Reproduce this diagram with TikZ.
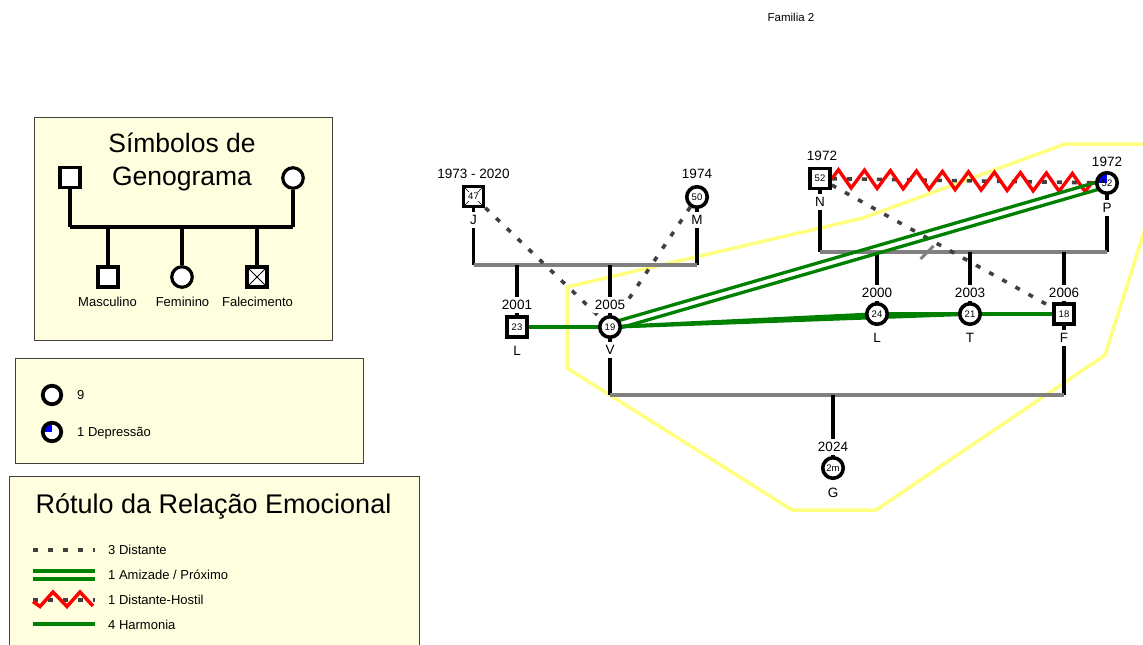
\documentclass[tikz,border=0pt]{standalone}
\usepackage{fontspec}
\setmainfont{Liberation Sans}
\usetikzlibrary{calc,decorations.pathmorphing}
\definecolor{legfill}{HTML}{FFFFE0}
\definecolor{hhold}{HTML}{FFFF80}
\definecolor{relgreen}{HTML}{008000}
\definecolor{distgray}{HTML}{404040}
\definecolor{marr}{HTML}{808080}
\pgfdeclarelayer{bg}
\pgfsetlayers{bg,main}
\begin{document}
\begin{tikzpicture}[x=1pt,y=-1pt,
  famline/.style={line width=3.7pt, black},
  marline/.style={line width=3.6pt, marr},
  distline/.style={line width=3.6pt, distgray, dash pattern=on 5pt off 10pt},
  harmline/.style={line width=3.6pt, relgreen},
  hostline/.style={line width=3.4pt, red, line join=miter, decorate, decoration={zigzag, segment length=26pt, amplitude=9pt}},
  male/.style={draw, line width=3.6pt, fill=white, minimum size=20pt, inner sep=0pt, font=\fontsize{9.5}{10}\selectfont},
  female/.style={circle, draw, line width=3.6pt, fill=white, minimum size=20.5pt, inner sep=0pt, font=\fontsize{9.5}{10}\selectfont},
  dead/.style={path picture={\draw[line width=0.6pt] (path picture bounding box.north west) -- (path picture bounding box.south east) (path picture bounding box.north east) -- (path picture bounding box.south west); \fill[white] ($(path picture bounding box.center)+(-6,-4.5)$) rectangle ($(path picture bounding box.center)+(6,4.5)$);}},
  crossed/.style={path picture={\draw[line width=0.8pt] (path picture bounding box.north west) -- (path picture bounding box.south east) (path picture bounding box.north east) -- (path picture bounding box.south west);}},
  depress/.style={path picture={\fill[blue] (path picture bounding box.center) -- (path picture bounding box.north) -- (path picture bounding box.north west) -- (path picture bounding box.west) -- cycle;}},
  lab/.style={font=\fontsize{13.5}{14}\selectfont, fill=white, inner xsep=1.5pt, inner ysep=2.8pt, text height=9.7pt, text depth=0pt},
  small/.style={font=\fontsize{13}{14}\selectfont, inner sep=0pt, text height=9.3pt, text depth=0pt, anchor=west},
  legtxt/.style={font=\fontsize{13}{14}\selectfont, inner sep=0pt, text height=9.3pt, text depth=0pt},
  bigtitle/.style={font=\fontsize{26.5}{27}\selectfont, inner sep=0pt, text height=19pt, text depth=0pt},
  legbox/.style={draw=black!75, line width=0.9pt, fill=legfill},
]
\useasboundingbox (0,0) rectangle (1143,645);

% ---------- title
\node[font=\fontsize{11.5}{12}\selectfont, inner sep=0pt] (title) at (791,17) {Familia 2};

% ---------- legend 1 nodes
\node[bigtitle] (t1) at (182,142.5) {Símbolos de};
\node[bigtitle] (t2) at (182,176) {Genograma};
\node[male, line width=3.2pt] (s1) at (70,177.5) {};
\node[female, line width=3.2pt] (s2) at (293,178) {};
\node[male, line width=3.2pt] (s3) at (108,277) {};
\node[female, line width=3.2pt] (s4) at (182,277) {};
\node[male, crossed, line width=3.2pt] (s5) at (257,277) {};
\node[legtxt] (s3t) at (107.5,301.5) {Masculino};
\node[legtxt] (s4t) at (182.5,301.5) {Feminino};
\node[legtxt] (s5t) at (257.5,301.5) {Falecimento};
\coordinate (s12a) at (70,227);
\coordinate (s12b) at (293,227);

% ---------- legend 2 nodes
\node[female, line width=3.8pt, minimum size=18.5pt] (k1) at (52,395) {};
\node[small] (k1t) at (77,395) {9};
\node[female, depress, line width=3.8pt, minimum size=18.5pt] (k2) at (52,432) {};
\node[small] (k2t) at (77,432) {1 Depressão};

% ---------- legend 3 nodes
\node[font=\fontsize{27}{28}\selectfont, inner sep=0pt, text height=19.3pt, text depth=0pt] (t3) at (213.5,503.5) {Rótulo da Relação Emocional};
\node[small] (r1) at (108,550) {3 Distante};
\node[small] (r2) at (108,575) {1 Amizade / Próximo};
\node[small] (r3) at (108,600) {1 Distante-Hostil};
\node[small] (r4) at (108,625) {4 Harmonia};
\coordinate (d1a) at (33,550); \coordinate (d1b) at (95,550);
\coordinate (d2a) at (33,571); \coordinate (d2b) at (95,571);
\coordinate (d2c) at (33,579); \coordinate (d2d) at (95,579);
\coordinate (d3a) at (33,600); \coordinate (d3b) at (95,600);
\coordinate (d4a) at (33,624); \coordinate (d4b) at (95,624);

% ---------- people
\node[male, dead] (J) at (473.5,196.5) {47};
\node[female] (M) at (697,197) {50};
\node[male] (L1) at (517,327) {23};
\node[female] (V) at (610,327) {19};
\node[male] (N) at (820,178.5) {52};
\node[female, depress] (P) at (1107,183) {52};
\node[female] (L2) at (877,314) {24};
\node[female] (T) at (970,314) {21};
\node[male] (F) at (1064,314) {18};
\node[female] (G) at (833,468) {2m};

% ---------- labels
\node[lab] (Jy) at (473.5,174) {1973 - 2020};
\node[lab] (Jn) at (473.5,220) {J};
\node[lab] (My) at (697,174) {1974};
\node[lab] (Mn) at (697,220) {M};
\node[lab] (L1y) at (517,305) {2001};
\node[lab] (L1n) at (517,351) {L};
\node[lab] (Vy) at (610,305) {2005};
\node[lab] (Vn) at (610,350) {V};
\node[lab] (Ny) at (822,156) {1972};
\node[lab] (Nn) at (820,202) {N};
\node[lab] (Py) at (1107,162) {1972};
\node[lab] (Pn) at (1107,208) {P};
\node[lab] (L2y) at (877,293) {2000};
\node[lab] (L2n) at (877,338) {L};
\node[lab] (Ty) at (970,293) {2003};
\node[lab] (Tn) at (970,338) {T};
\node[lab] (Fy) at (1064,293) {2006};
\node[lab] (Fn) at (1064,338) {F};
\node[lab] (Gy) at (833,447) {2024};
\node[lab] (Gn) at (833,493) {G};

% marriage line points
\coordinate (jm1) at (473.5,265); \coordinate (jm2) at (697,265);
\coordinate (np1) at (820,252); \coordinate (np2) at (1107,252);
\coordinate (vf1) at (610,395); \coordinate (vf2) at (1064,395);
\coordinate (vfg) at (833,395);
\coordinate (sepa) at (920.5,259); \coordinate (sepb) at (933.5,246);

\begin{pgfonlayer}{bg}
\clip (0,0) rectangle (1143,645);
% legend boxes
\draw[legbox] (34,117) rectangle (332,340);
\draw[legbox] (15,358) rectangle (363,463);
\draw[legbox] (9,476) rectangle (419,700);
% legend 1 lines
\draw[famline] (s1) -- (s12a);
\draw[famline] (s2) -- (s12b);
\draw[famline] (s12a) -- (s12b);
\foreach \c in {s3,s4,s5} \draw[famline] ($(s12a)!(\c)!(s12b)$) -- (\c);
% legend 3 samples
\draw[distline] (d1a) -- (d1b);
\draw[harmline] (d2a) -- (d2b);
\draw[harmline] (d2c) -- (d2d);
\draw[distline] (d3a) -- (d3b);
\draw[line width=3.5pt, red] (33,601.5) -- (40,606.5) -- (53,592) -- (67,606.5) -- (80,592) -- (93,606);
\draw[harmline] (d4a) -- (d4b);

% household outline
\draw[hhold, line width=3.5pt, line join=round] (567,287) -- (863,218) -- (1065,144) -- (1172,144) -- (1105,355) -- (876,510) -- (792,510) -- (567,368) -- cycle;

% family lines
\draw[famline] (J) -- (jm1);
\draw[famline] (M) -- (jm2);
\draw[marline] (jm1) -- (jm2);
\draw[famline] ($(jm1)!(L1)!(jm2)$) -- (L1);
\draw[famline] ($(jm1)!(V)!(jm2)$) -- (V);
\draw[famline] (N) -- (np1);
\draw[famline] (P) -- (np2);
\draw[marline] (np1) -- (np2);
\draw[marline, line width=3pt] (sepa) -- (sepb);
\draw[famline] ($(np1)!(L2)!(np2)$) -- (L2);
\draw[famline] ($(np1)!(T)!(np2)$) -- (T);
\draw[famline] ($(np1)!(F)!(np2)$) -- (F);
\draw[famline] (V) -- (vf1);
\draw[famline] (F) -- (vf2);
\draw[marline] (vf1) -- (vf2);
\draw[famline] (vfg) -- (G);

% emotional relations
\draw[distline] (J) -- (V);
\draw[distline] (M) -- (V);
\draw[distline] (N) -- (F);
\draw[distline] (N) -- (P);
\draw[hostline] (N) -- (P);
\draw[harmline, line width=3.3pt] ($(V)!3.7pt!90:(P)$) -- ($(P)!3.7pt!-90:(V)$);
\draw[harmline, line width=3.3pt] ($(V)!3.7pt!-90:(P)$) -- ($(P)!3.7pt!90:(V)$);
\draw[harmline] (L1) -- (V);
\draw[harmline] (V) -- (L2);
\draw[harmline] (V) -- (T);
\draw[harmline] (L2) -- (F);
\end{pgfonlayer}
\end{tikzpicture}
\end{document}
